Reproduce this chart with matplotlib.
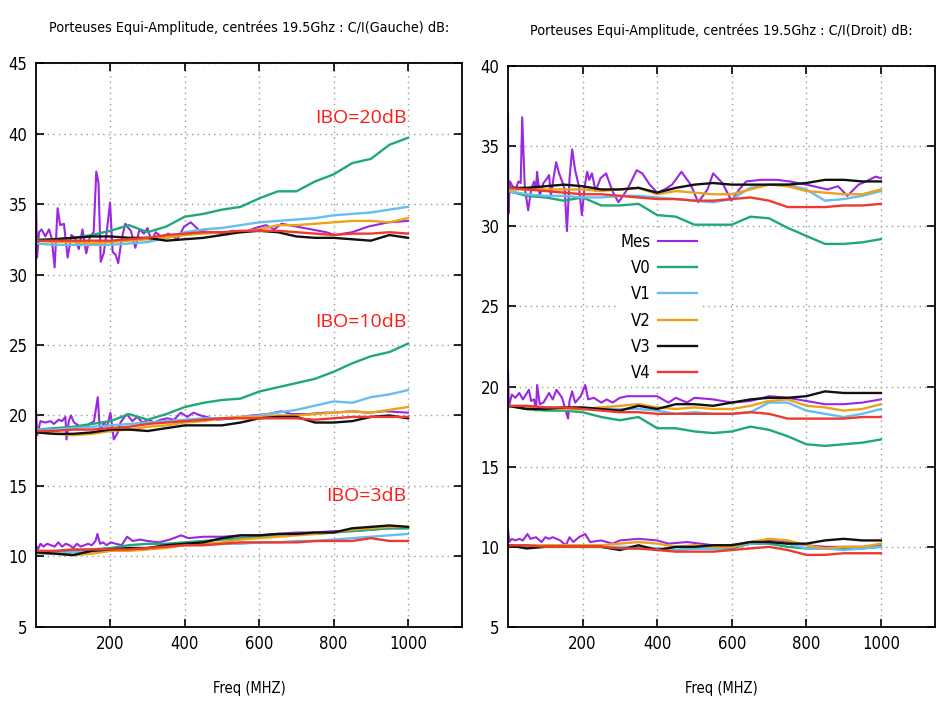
import matplotlib

matplotlib.use("Agg")
import matplotlib.pyplot as plt

# frequency grid (MHz) used by the smooth simulated curves
F_GRID = [0, 50, 100, 150, 200, 250, 300, 350, 400, 450, 500,
          550, 600, 650, 700, 750, 800, 850, 900, 950, 1000]

SERIES = ["Mes", "V0", "V1", "V2", "V3", "V4"]
COLORS = ["#9b27e0", "#20a879", "#66bdf0", "#eaa31a", "#111111", "#ee3a2e"]

# ---- left panel : C/I (Gauche) ----
L20_MES_F = [0, 3, 8, 15, 25, 35, 42, 50, 58, 65, 75, 85, 95, 105, 115, 125, 135, 145, 155, 162,
             168, 174, 182, 190, 199, 206, 214, 221, 230, 240, 245, 255, 267, 278, 290, 300, 310, 322, 340, 355,
             380, 398, 416, 440, 470, 500, 530, 560, 590, 618, 640, 660, 700, 740, 780, 803, 850, 893, 947, 1000]
L20_MES = [35.2, 31.2, 33.0, 33.2, 32.7, 33.2, 32.6, 30.5, 34.7, 33.5, 33.6, 31.2, 32.8, 32.6, 31.8, 33.2, 31.5, 32.7, 33.0, 37.3,
           36.5, 30.9, 31.5, 33.0, 35.1, 31.6, 31.4, 30.8, 32.5, 33.6, 33.4, 33.1, 31.9, 33.2, 32.9, 33.3, 32.4, 33.0, 32.6, 32.9,
           32.5, 33.4, 33.7, 33.1, 33.0, 32.9, 33.1, 33.0, 33.3, 33.5, 33.2, 33.6, 33.4, 33.2, 33.0, 32.8, 33.0, 33.4, 33.7, 33.8]
L20_V0 = [32.5, 32.5, 32.6, 32.8, 33.1, 33.5, 33.0, 33.4, 34.1, 34.3, 34.6, 34.8, 35.4, 35.9, 35.9, 36.6, 37.1, 37.9, 38.2, 39.2, 39.7]
L20_V1 = [32.2, 32.1, 32.1, 32.1, 32.1, 32.2, 32.3, 32.6, 33.0, 33.2, 33.3, 33.5, 33.7, 33.8, 33.9, 34.0, 34.2, 34.3, 34.4, 34.6, 34.8]
L20_V2 = [32.4, 32.3, 32.3, 32.2, 32.3, 32.4, 32.5, 32.6, 32.8, 32.9, 33.0, 33.0, 33.2, 33.5, 33.5, 33.6, 33.7, 33.8, 33.8, 33.7, 34.0]
L20_V3 = [32.4, 32.5, 32.6, 32.7, 32.7, 32.6, 32.6, 32.4, 32.5, 32.6, 32.8, 33.0, 33.1, 33.0, 32.7, 32.6, 32.6, 32.5, 32.4, 32.8, 32.6]
L20_V4 = [32.4, 32.4, 32.4, 32.4, 32.4, 32.5, 32.6, 32.8, 32.9, 33.0, 33.0, 33.1, 33.1, 33.1, 33.0, 32.9, 32.8, 32.9, 32.9, 33.0, 32.9]

L10_MES_F = [0, 3, 12, 25, 39, 48, 61, 70, 79, 82, 88, 94, 102, 120, 138, 156, 166, 172, 182, 191,
             200, 209, 220, 227, 244, 259, 272, 286, 304, 317, 335, 353, 371, 389, 407, 423, 443, 488, 533, 578,
             623, 659, 686, 731, 776, 803, 848, 893, 938, 1000]
L10_MES = [20.4, 18.6, 19.6, 19.5, 19.6, 19.4, 19.7, 19.6, 19.9, 18.3, 19.6, 20.0, 19.5, 19.2, 19.3, 19.6, 21.3, 18.8, 19.5, 19.2,
           20.2, 18.3, 18.8, 19.5, 20.1, 19.6, 19.9, 19.5, 19.7, 19.5, 19.7, 19.8, 19.7, 20.2, 19.9, 20.2, 20.0, 19.7, 19.8, 20.0,
           20.1, 20.3, 20.1, 20.1, 20.2, 20.2, 20.3, 20.2, 20.3, 20.2]
L10_V0 = [19.0, 19.1, 19.2, 19.4, 19.6, 20.1, 19.7, 20.1, 20.6, 20.9, 21.1, 21.2, 21.7, 22.0, 22.3, 22.6, 23.1, 23.7, 24.2, 24.5, 25.1]
L10_V1 = [19.0, 19.0, 19.1, 19.2, 19.3, 19.4, 19.5, 19.6, 19.7, 19.8, 19.8, 19.9, 20.0, 20.2, 20.4, 20.7, 21.0, 20.9, 21.3, 21.5, 21.8]
L10_V2 = [18.8, 18.7, 18.6, 18.7, 18.9, 19.0, 19.2, 19.3, 19.5, 19.6, 19.8, 19.9, 19.9, 20.0, 20.0, 20.1, 20.2, 20.3, 20.2, 20.4, 20.6]
L10_V3 = [18.8, 18.7, 18.7, 18.8, 19.0, 19.0, 18.9, 19.1, 19.3, 19.3, 19.3, 19.5, 19.8, 19.9, 19.9, 19.5, 19.5, 19.6, 19.9, 20.0, 19.8]
L10_V4 = [18.9, 18.9, 19.0, 19.0, 19.1, 19.2, 19.4, 19.5, 19.6, 19.7, 19.8, 19.8, 19.8, 19.8, 19.8, 19.7, 19.8, 19.9, 19.9, 19.9, 19.9]

L3_MES_F = [0, 5, 12, 20, 30, 40, 50, 60, 70, 80, 90, 100, 110, 120, 130, 140, 150, 160, 165, 172,
            180, 190, 200, 215, 230, 245, 260, 280, 300, 330, 360, 390, 410, 450, 500, 550, 600, 650, 700, 750,
            800, 850, 900, 950, 1000]
L3_MES = [10.8, 10.5, 10.9, 10.7, 10.9, 10.8, 10.7, 11.0, 10.7, 10.9, 10.8, 10.6, 10.9, 10.7, 10.8, 10.9, 10.8, 11.1, 11.6, 10.9,
          11.0, 10.8, 11.0, 10.9, 10.8, 11.4, 11.1, 11.2, 11.1, 11.0, 11.2, 11.5, 11.3, 11.4, 11.4, 11.5, 11.5, 11.6, 11.7, 11.7,
          11.8, 11.8, 11.9, 12.0, 12.0]
L3_V0 = [10.3, 10.3, 10.4, 10.5, 10.6, 10.8, 10.9, 10.9, 11.0, 11.1, 11.2, 11.3, 11.4, 11.5, 11.6, 11.6, 11.7, 11.8, 11.9, 12.0, 12.0]
L3_V1 = [10.2, 10.2, 10.3, 10.3, 10.4, 10.5, 10.6, 10.7, 10.8, 10.8, 10.9, 10.9, 11.0, 11.0, 11.1, 11.1, 11.2, 11.3, 11.4, 11.5, 11.6]
L3_V2 = [10.3, 10.2, 10.1, 10.2, 10.4, 10.4, 10.5, 10.6, 10.8, 10.9, 11.0, 11.2, 11.3, 11.4, 11.5, 11.6, 11.7, 11.9, 12.0, 12.1, 12.1]
L3_V3 = [10.3, 10.2, 10.1, 10.4, 10.5, 10.6, 10.6, 10.8, 10.9, 11.0, 11.3, 11.5, 11.5, 11.6, 11.6, 11.7, 11.7, 12.0, 12.1, 12.2, 12.1]
L3_V4 = [10.4, 10.4, 10.5, 10.5, 10.5, 10.5, 10.6, 10.7, 10.8, 10.8, 10.9, 11.0, 11.0, 11.0, 11.0, 11.1, 11.1, 11.1, 11.3, 11.1, 11.1]

# ---- right panel : C/I (Droit) ----
R20_MES_F = [0, 1, 5, 12, 20, 28, 34, 38, 45, 54, 62, 70, 75, 78, 85, 95, 105, 110, 115, 122,
             129, 137, 145, 152, 158, 165, 172, 180, 190, 198, 205, 212, 218, 225, 235, 248, 263, 280, 296, 320,
             345, 360, 380, 400, 420, 440, 465, 490, 510, 535, 550, 575, 599, 620, 639, 679, 720, 755, 800, 857,
             885, 910, 940, 960, 986, 1000]
R20_MES = [37.0, 30.8, 32.8, 32.5, 32.3, 32.8, 32.7, 36.8, 32.4, 31.0, 32.3, 32.8, 32.3, 33.4, 31.9, 32.7, 33.0, 33.2, 31.9, 33.0,
           34.0, 33.3, 32.8, 32.3, 29.7, 33.0, 34.8, 33.5, 32.5, 30.7, 32.4, 33.4, 32.9, 33.3, 32.2, 33.0, 33.3, 32.2, 31.5, 32.3,
           33.5, 33.3, 32.6, 32.1, 32.3, 32.6, 33.4, 32.6, 31.5, 32.3, 33.3, 32.7, 31.6, 32.3, 32.8, 32.9, 32.9, 32.8, 32.6, 32.3,
           32.5, 31.9, 32.6, 32.8, 33.1, 33.0]
R20_V0 = [32.2, 31.9, 31.8, 31.6, 31.8, 31.3, 31.3, 31.4, 30.7, 30.6, 30.1, 30.1, 30.1, 30.6, 30.5, 29.9, 29.4, 28.9, 28.9, 29.0, 29.2]
R20_V1 = [32.2, 32.0, 31.9, 31.9, 31.8, 31.8, 31.9, 31.9, 31.8, 31.7, 31.6, 31.5, 31.7, 32.4, 32.6, 32.6, 32.3, 31.6, 31.7, 31.9, 32.2]
R20_V2 = [32.3, 32.3, 32.3, 32.3, 32.3, 32.2, 32.3, 32.4, 32.0, 32.2, 32.1, 32.0, 32.0, 32.3, 32.6, 32.5, 32.2, 32.1, 32.0, 32.0, 32.3]
R20_V3 = [32.4, 32.4, 32.5, 32.6, 32.5, 32.3, 32.3, 32.4, 32.1, 32.4, 32.6, 32.7, 32.6, 32.6, 32.6, 32.6, 32.7, 32.9, 32.9, 32.8, 32.8]
R20_V4 = [32.4, 32.3, 32.2, 32.1, 32.0, 32.0, 31.9, 31.8, 31.7, 31.7, 31.6, 31.6, 31.7, 31.8, 31.6, 31.2, 31.2, 31.2, 31.3, 31.3, 31.4]

R10_MES_F = [0, 2, 10, 20, 30, 40, 48, 56, 62, 70, 75, 78, 85, 95, 110, 120, 130, 145, 161, 165,
             172, 180, 195, 207, 215, 230, 250, 265, 280, 300, 320, 350, 400, 430, 450, 480, 500, 550, 600, 650,
             700, 750, 800, 850, 900, 950, 1000]
R10_MES = [21.0, 18.7, 19.5, 19.3, 19.6, 19.2, 19.5, 19.8, 19.1, 19.2, 18.5, 20.1, 18.9, 19.0, 19.6, 19.2, 19.8, 19.3, 18.0, 19.1,
           19.7, 19.0, 19.4, 20.1, 19.2, 19.3, 19.0, 19.2, 19.0, 19.3, 19.4, 19.4, 19.4, 19.0, 19.3, 19.0, 19.3, 19.2, 19.0, 19.1,
           19.4, 19.3, 19.1, 18.9, 18.9, 19.0, 19.2]
R10_V0 = [18.8, 18.6, 18.5, 18.5, 18.4, 18.1, 17.9, 18.1, 17.4, 17.4, 17.2, 17.1, 17.2, 17.5, 17.3, 16.9, 16.4, 16.3, 16.4, 16.5, 16.7]
R10_V1 = [18.8, 18.7, 18.7, 18.6, 18.6, 18.6, 18.6, 18.6, 18.5, 18.3, 18.4, 18.3, 18.3, 18.4, 19.0, 19.0, 18.5, 18.3, 18.1, 18.3, 18.6]
R10_V2 = [18.8, 18.7, 18.7, 18.6, 18.6, 18.7, 18.8, 18.9, 18.7, 18.6, 18.7, 18.6, 18.6, 18.8, 19.1, 19.2, 18.8, 18.7, 18.5, 18.6, 18.9]
R10_V3 = [18.8, 18.6, 18.6, 18.7, 18.7, 18.6, 18.5, 18.8, 18.6, 18.9, 18.9, 18.8, 19.0, 19.2, 19.3, 19.3, 19.4, 19.7, 19.6, 19.6, 19.6]
R10_V4 = [18.8, 18.8, 18.7, 18.7, 18.6, 18.5, 18.4, 18.4, 18.3, 18.3, 18.3, 18.3, 18.3, 18.4, 18.3, 18.0, 18.0, 18.0, 18.0, 18.1, 18.1]

R3_MES_F = [0, 3, 10, 20, 30, 40, 52, 60, 75, 90, 100, 110, 120, 140, 155, 165, 175, 190, 207, 220,
            250, 280, 300, 350, 400, 430, 480, 550, 600, 650, 700, 750, 800, 850, 900, 950, 1000]
R3_MES = [11.1, 10.3, 10.5, 10.4, 10.5, 10.4, 10.8, 10.5, 10.6, 10.3, 10.6, 10.5, 10.6, 10.4, 10.1, 10.6, 10.3, 10.6, 10.8, 10.3,
          10.4, 10.2, 10.4, 10.5, 10.4, 10.2, 10.3, 10.1, 10.1, 10.3, 10.4, 10.3, 10.1, 10.0, 10.0, 10.0, 10.1]
R3_V0 = [10.1, 10.0, 10.0, 10.0, 10.0, 10.0, 9.9, 9.9, 9.9, 9.8, 9.9, 9.9, 9.9, 10.2, 10.2, 10.0, 9.9, 9.9, 9.9, 9.9, 10.0]
R3_V1 = [10.1, 10.1, 10.0, 10.0, 10.0, 10.0, 10.0, 10.0, 9.9, 9.8, 9.9, 9.9, 10.0, 10.2, 10.3, 10.2, 9.9, 9.9, 9.8, 9.9, 10.0]
R3_V2 = [10.1, 10.1, 10.1, 10.1, 10.1, 10.1, 10.2, 10.3, 10.2, 10.0, 10.1, 10.0, 10.0, 10.3, 10.5, 10.4, 10.1, 9.9, 10.0, 10.0, 10.2]
R3_V3 = [10.1, 9.9, 10.0, 10.0, 10.0, 10.0, 9.8, 10.1, 9.8, 10.0, 10.0, 10.1, 10.1, 10.3, 10.3, 10.2, 10.2, 10.4, 10.5, 10.4, 10.4]
R3_V4 = [10.1, 10.1, 10.0, 10.0, 10.0, 10.0, 9.9, 9.9, 9.8, 9.7, 9.7, 9.7, 9.8, 9.9, 10.0, 9.8, 9.5, 9.5, 9.6, 9.6, 9.6]

IBO_LABELS = ["IBO=20dB", "IBO=10dB", "IBO=3dB"]
IBO_Y = [41.1, 26.6, 14.3]

LEFT_TITLE = "Porteuses Equi-Amplitude, centrées 19.5Ghz : C/I(Gauche) dB:"
RIGHT_TITLE = "Porteuses Equi-Amplitude, centrées 19.5Ghz : C/I(Droit) dB:"

TEXT_FONT = ["DejaVu Sans"]


def draw_group(axis, mes_f, mes, curves, with_labels):
    axis.plot(mes_f, mes, color=COLORS[0], lw=1.5, label=SERIES[0] if with_labels else None)
    for name, color, values in zip(SERIES[1:], COLORS[1:], curves):
        axis.plot(F_GRID, values, color=color, lw=1.7, label=name if with_labels else None)


def style_axis(axis, top, title):
    axis.set_xlim(0, 1145)
    axis.set_ylim(5, top)
    axis.set_xticks([200, 400, 600, 800, 1000])
    axis.set_yticks(range(5, top + 1, 5))
    axis.tick_params(direction="in", length=6, width=1.2, top=True, right=True,
                     labelsize=12, pad=6)
    for label in axis.get_xticklabels() + axis.get_yticklabels():
        label.set_family(TEXT_FONT)
        label.set_stretch("condensed")
    axis.grid(True, color="#9a9a9a", linestyle=(0, (1, 3)), linewidth=1)
    for spine in axis.spines.values():
        spine.set_linewidth(1.3)
    axis.set_title(title, fontsize=10.3, family=TEXT_FONT, stretch="condensed", pad=22)
    axis.set_xlabel("Freq (MHZ)", fontsize=10.5, family=TEXT_FONT, stretch="condensed",
                    labelpad=20)


figure = plt.figure(figsize=(9.38, 7.01), dpi=100)
left = figure.add_axes([0.0384, 0.1056, 0.4541, 0.8045])
right = figure.add_axes([0.5416, 0.1056, 0.4552, 0.8002])

draw_group(left, L20_MES_F, L20_MES, [L20_V0, L20_V1, L20_V2, L20_V3, L20_V4], False)
draw_group(left, L10_MES_F, L10_MES, [L10_V0, L10_V1, L10_V2, L10_V3, L10_V4], False)
draw_group(left, L3_MES_F, L3_MES, [L3_V0, L3_V1, L3_V2, L3_V3, L3_V4], False)
style_axis(left, 45, LEFT_TITLE)
for text, y_value in zip(IBO_LABELS, IBO_Y):
    left.text(995, y_value, text, color="#ff1a1a", fontsize=14, family="Open Sans",
              ha="right", va="center")

draw_group(right, R20_MES_F, R20_MES, [R20_V0, R20_V1, R20_V2, R20_V3, R20_V4], True)
draw_group(right, R10_MES_F, R10_MES, [R10_V0, R10_V1, R10_V2, R10_V3, R10_V4], False)
draw_group(right, R3_MES_F, R3_MES, [R3_V0, R3_V1, R3_V2, R3_V3, R3_V4], False)
style_axis(right, 40, RIGHT_TITLE)
legend = right.legend(loc="upper left", bbox_to_anchor=(0.235, 0.724), markerfirst=False,
                      frameon=True, framealpha=1, edgecolor="none", fancybox=False,
                      prop={"family": TEXT_FONT, "size": 12, "stretch": "condensed"},
                      labelspacing=0.5, handlelength=2.3, handletextpad=0.5, borderpad=0.2)
for text in legend.get_texts():
    text.set_ha("right")

figure.savefig("out.png", dpi=100)
plt.close(figure)
